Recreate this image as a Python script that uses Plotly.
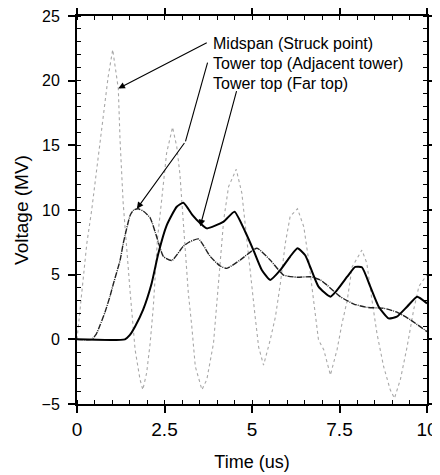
import plotly.graph_objects as go

# Midspan (Struck point)
t_mid = [0.0, 0.09, 0.28, 0.42, 0.61, 0.75, 0.89, 1.02, 1.18, 1.23, 1.32, 1.52, 1.66, 1.80, 1.88,
         1.99, 2.09, 2.18, 2.30, 2.42, 2.56, 2.73, 2.85, 2.94, 3.09, 3.18, 3.28, 3.38, 3.57, 3.71,
         3.90, 3.99, 4.09, 4.19, 4.33, 4.55, 4.71, 4.86, 5.00, 5.09, 5.19, 5.33, 5.52, 5.67, 5.81,
         5.95, 6.09, 6.30, 6.48, 6.62, 6.76, 6.90, 7.05, 7.24, 7.43, 7.57, 7.72, 7.86, 8.14, 8.28,
         8.43, 8.57, 8.76, 8.95, 9.07, 9.24, 9.43, 9.62, 9.77, 10.0]
v_mid = [0.0, 2.3, 7.4, 10.0, 14.1, 17.5, 20.3, 22.4, 19.4, 15.4, 10.5, 3.6, -0.8, -3.1, -3.9,
         -2.6, -0.3, 2.5, 7.8, 10.8, 14.4, 16.4, 14.9, 12.8, 7.4, 3.6, 1.0, -2.1, -3.9, -3.1,
         -0.3, 2.8, 6.1, 9.2, 11.8, 13.15, 11.3, 7.4, 4.1, 1.75, -0.6, -2.0, -0.05, 1.75, 4.3,
         7.4, 9.5, 10.1, 8.7, 6.1, 3.0, -0.05, -0.8, -2.76, -0.8, 1.2, 3.0, 5.6, 6.9, 5.9,
         3.0, 0.46, -2.1, -3.9, -4.56, -3.1, -0.6, 2.3, 4.1, 5.0]

# Tower top (Adjacent tower)
t_adj = [0.0, 0.42, 0.55, 0.66, 0.80, 0.94, 1.04, 1.23, 1.32, 1.52, 1.62, 1.75, 1.90, 2.09, 2.28,
         2.47, 2.71, 3.04, 3.23, 3.47, 3.81, 4.09, 4.28, 4.66, 5.14, 5.52, 5.90, 6.29, 6.67, 6.95,
         7.14, 7.52, 7.91, 8.29, 8.76, 9.14, 9.53, 10.0]
v_adj = [0.0, 0.0, 0.4, 1.1, 2.1, 3.3, 4.3, 6.1, 7.4, 9.6, 10.0, 10.1, 9.9, 9.4, 7.9,
         6.4, 6.1, 7.2, 7.55, 7.76, 6.4, 5.67, 5.49, 6.13, 7.04, 6.13, 4.97, 4.8, 4.84, 4.6,
         4.2, 3.3, 2.73, 2.47, 2.4, 2.1, 1.5, 0.6]

# Tower top (Far top)
t_far = [0.0, 1.37, 1.50, 1.66, 1.89, 2.13, 2.32, 2.56, 2.85, 3.04, 3.30, 3.52, 3.71, 4.19, 4.50,
         4.81, 5.04, 5.28, 5.52, 5.81, 6.09, 6.30, 6.52, 6.62, 6.90, 7.24, 7.43, 7.72, 7.95, 8.14,
         8.38, 8.62, 8.90, 9.14, 9.43, 9.72, 10.0]
v_far = [0.0, 0.0, 0.3, 1.0, 2.3, 4.3, 6.6, 8.8, 10.25, 10.56, 9.6, 8.97, 8.58, 9.1, 9.87,
         8.3, 6.9, 5.36, 4.59, 5.36, 6.4, 7.04, 6.5, 5.9, 4.07, 3.3, 3.8, 4.84, 5.6, 5.57,
         4.07, 2.52, 1.62, 1.75, 2.52, 3.3, 2.78]

labels = ["Midspan (Struck point)", "Tower top (Adjacent tower)", "Tower top (Far top)"]
x_ticks = [0, 2.5, 5, 7.5, 10]
x_tick_text = ["0", "2.5", "5", "7.5", "10"]
y_ticks = [-5, 0, 5, 10, 15, 20, 25]

FONT = "Liberation Sans, Arial, sans-serif"

fig = go.Figure()
fig.add_trace(go.Scatter(x=t_mid, y=v_mid, mode="lines", name=labels[0],
                         line=dict(color="#a8a8a8", width=1.1, dash="dot")))
fig.add_trace(go.Scatter(x=t_adj, y=v_adj, mode="lines", name=labels[1],
                         line=dict(color="#222222", width=1.4, dash="6px,1px,1px,1px",
                                   shape="spline", smoothing=0.5)))
fig.add_trace(go.Scatter(x=t_far, y=v_far, mode="lines", name=labels[2],
                         line=dict(color="#000000", width=2.0, shape="spline", smoothing=0.5)))

# text labels
text_x = 3.82
text_y = [22.9, 21.35, 19.8]
for lab, ty in zip(labels, text_y):
    fig.add_annotation(x=text_x, y=ty, xref="x", yref="y", text=lab, showarrow=False,
                       xanchor="left", yanchor="middle",
                       font=dict(family=FONT, size=16, color="#000"))

arrow_style = dict(showarrow=True, arrowhead=2, arrowsize=1.2, arrowwidth=1.1,
                   arrowcolor="#000", axref="x", ayref="y", xref="x", yref="y", text="")
# Midspan arrow
fig.add_annotation(x=1.18, y=19.4, ax=3.75, ay=23.0, **arrow_style)
# Adjacent tower arrow (bent)
fig.add_shape(type="line", x0=3.73, y0=21.4, x1=3.10, y1=15.3, xref="x", yref="y",
              line=dict(color="#000", width=1.1))
fig.add_annotation(x=1.71, y=10.1, ax=3.10, ay=15.3, **arrow_style)
# Far top arrow
fig.add_annotation(x=3.52, y=8.75, ax=4.57, ay=19.3, **arrow_style)

axis_common = dict(showgrid=False, zeroline=False, showline=True, linecolor="#000",
                   linewidth=2, mirror="all", ticks="outside", ticklen=7, tickwidth=1.5,
                   tickcolor="#000", automargin=False, ticklabeloverflow="allow")
fig.update_xaxes(range=[0, 10], tickvals=x_ticks, ticktext=x_tick_text,
                 title=dict(text="Time (us)", font=dict(family=FONT, size=18, color="#000"),
                            standoff=17),
                 tickfont=dict(family=FONT, size=19, color="#000"),
                 minor=dict(dtick=0.5, ticks="inside", ticklen=4, tickwidth=1, tickcolor="#000"),
                 **axis_common)
fig.update_yaxes(range=[-5, 25], tickvals=y_ticks,
                 title=dict(text="Voltage (MV)", font=dict(family=FONT, size=19, color="#000"),
                            standoff=8),
                 tickfont=dict(family=FONT, size=16, color="#000"),
                 ticklabelstandoff=5,
                 minor=dict(dtick=1, ticks="inside", ticklen=4, tickwidth=1, tickcolor="#000"),
                 **axis_common)

# page body has an 8px margin: size the figure so it fits the 440x475 window
fig.update_layout(width=432, height=467, showlegend=False,
                  margin=dict(l=69, r=13, t=8, b=71),
                  plot_bgcolor="white", paper_bgcolor="white",
                  font=dict(family=FONT, color="#000"))

fig.write_html("out.html")
